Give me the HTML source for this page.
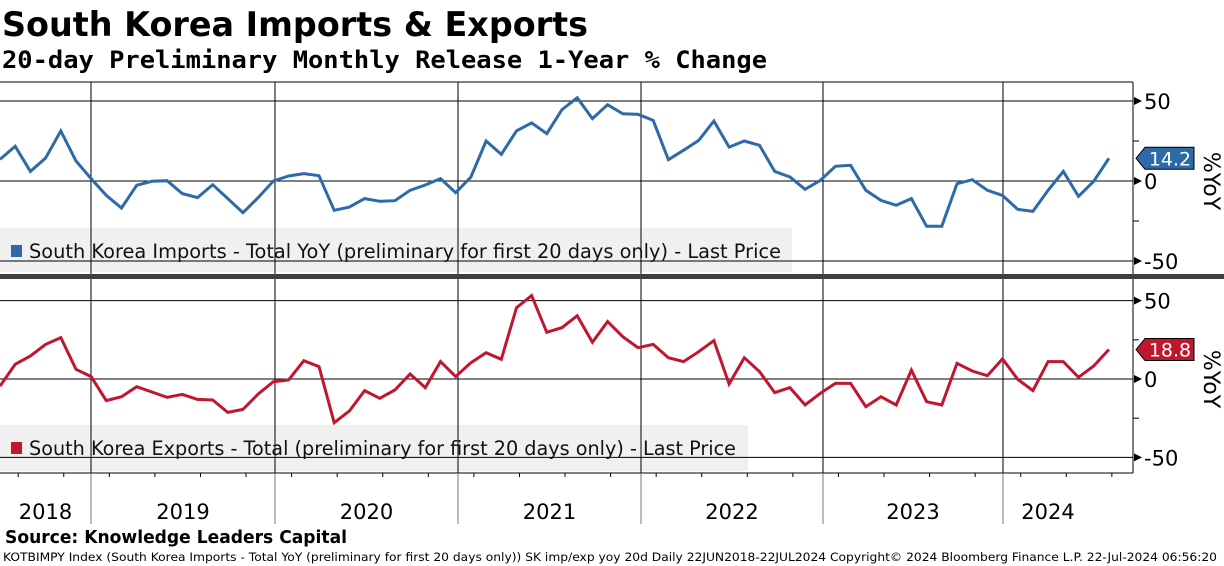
<!DOCTYPE html>
<html><head><meta charset="utf-8"><style>
body{margin:0;background:#fff;}
svg{display:block;font-family:"DejaVu Sans","Liberation Sans",sans-serif;}
</style></head><body>
<svg id="chart" width="1224" height="566" viewBox="0 0 1224 566" xmlns="http://www.w3.org/2000/svg">
<text x="2" y="36" font-size="34" font-weight="bold" fill="#000" textLength="586" lengthAdjust="spacingAndGlyphs">South Korea Imports &amp; Exports</text>
<text x="2" y="68" font-size="24" font-weight="bold" fill="#000" font-family="DejaVu Sans Mono, Liberation Mono, monospace" textLength="765" lengthAdjust="spacingAndGlyphs">20-day Preliminary Monthly Release 1-Year % Change</text>
<g id="grid"></g>
<g id="series"></g>
<g id="axes"></g>
<rect x="0" y="274" width="1224" height="5" fill="#404040"/>
<text x="5" y="543" font-size="18" font-weight="bold" fill="#000" textLength="342" lengthAdjust="spacingAndGlyphs">Source: Knowledge Leaders Capital</text>
<text x="3" y="561" font-size="11.5" fill="#000" textLength="1214" lengthAdjust="spacingAndGlyphs">KOTBIMPY Index (South Korea Imports - Total YoY (preliminary for first 20 days only)) SK imp/exp yoy 20d  Daily 22JUN2018-22JUL2024   Copyright© 2024 Bloomberg Finance L.P.    22-Jul-2024 06:56:20</text>
</svg>
<script>
const years = ["2018","2019","2020","2021","2022","2023","2024"];
const yearLineX = [91,275,458,641,823,1003];
const yTicks = [50,0,-50];
const imports = [13.5,21.7,6,14.4,31.3,12.5,1.5,-9,-16.9,-2.7,-0.2,0.2,-7.9,-10.4,-2.3,-11,-19.8,-10.4,0,3.1,4.6,3.3,-18.3,-16.3,-11,-12.7,-12.3,-5.8,-2.5,1.5,-7.3,2.5,25,16.7,31.3,36.3,29.6,44.6,52,39,47.7,42,41.7,37.9,13.3,19.2,25.4,37.5,21.2,25,22.3,6,2.5,-5.2,0.4,9.2,9.8,-5.8,-12.1,-15.2,-11,-28.3,-28.3,-1.7,0.8,-5.8,-9,-17.7,-19,-5.8,6,-9.6,-0.2,14.2];
const exportsData = [-4.5,9.4,14.7,22.1,26.4,6.2,1.5,-13.8,-11.3,-4.9,-8.3,-11.7,-9.8,-13,-13.4,-21.3,-19.4,-9.6,-1.7,-0.6,11.7,7.9,-27.9,-20.4,-7.4,-12.3,-7,3.2,-5.5,11.1,1.5,10.4,16.8,12.6,45.5,53.2,29.8,32.8,40.4,23.4,36.6,27,20,22.1,13.6,11.1,17.4,24.5,-3.2,13.6,4.7,-8.7,-5.5,-16.6,-9.1,-2.8,-2.8,-17.7,-11.3,-16.6,5.7,-14.5,-16.6,10,5.1,2.1,12.8,-0.2,-7.4,11.1,11.1,1.1,8.3,18.8];
const lastLabels = ["14.2","18.8"];

const NS="http://www.w3.org/2000/svg";
const G=document.getElementById('grid'),S=document.getElementById('series'),A=document.getElementById('axes');
function mk(tag,at,parent){const e=document.createElementNS(NS,tag);for(const k in at)e.setAttribute(k,at[k]);parent.appendChild(e);return e;}
const AX=1133;
const xOf=i=>i*15.19;
const panels=[
 {top:82,bot:274,y0:181,k:1.6,data:imports,color:"#2d6aa8",name:"imports",legend:"South Korea Imports - Total YoY (preliminary for first 20 days only) - Last Price",lw:792,ly:228,tl:752},
 {top:279,bot:473,y0:379,k:1.567,data:exportsData,color:"#c0172f",name:"exports",legend:"South Korea Exports - Total (preliminary for first 20 days only) - Last Price",lw:748,ly:425,tl:707}
];
panels.forEach((p,pi)=>{
 const yOf=v=>p.y0-v*p.k;
 let lb=mk('rect',{x:0,y:p.ly,width:p.lw,height:p.bot-p.ly-2,fill:"#f0f0f0"},G);
 
 
 yTicks.forEach(t=>{
  let l=mk('line',{x1:0,x2:AX,y1:yOf(t),y2:yOf(t),stroke:"#000","stroke-width":1},G);
  
  
  let ar=mk('path',{d:`M${AX+1},${yOf(t)-4} L${AX+9},${yOf(t)} L${AX+1},${yOf(t)+4}Z`,fill:"#000"},A);
  
  
  let tx=mk('text',{x:AX+11,y:yOf(t)+8,"font-size":21,fill:"#000"},A);
  tx.textContent=(t<0?"-":"")+Math.abs(t);
  
  
 });
 [25,-25].forEach(t=>{
  let m=mk('line',{x1:AX,x2:AX+6,y1:yOf(t),y2:yOf(t),stroke:"#000"},A);
  
  
 });
 yearLineX.forEach(x=>{
  let l=mk('line',{x1:x,x2:x,y1:p.top,y2:p.bot,stroke:"#000","stroke-width":1},G);
  
  
 });
 let sw=mk('rect',{x:11,y:p.ly+17,width:11,height:12,fill:p.color},A);
 
 
 let lt=mk('text',{x:29,y:p.ly+30,"font-size":19.5,fill:"#111",textLength:p.tl,lengthAdjust:"spacingAndGlyphs"},A);
 lt.textContent=p.legend;
 
 
 const pts=p.data.map((v,i)=>xOf(i).toFixed(1)+","+yOf(v).toFixed(1)).join(" ");
 let pl=mk('polyline',{points:pts,fill:"none",stroke:p.color,"stroke-width":3,"stroke-linejoin":"miter"},S);
 
 
 const lv=p.data[p.data.length-1],ly=yOf(lv);
 let tag=mk('path',{d:`M${AX+3},${ly} L${AX+12},${ly-11} H${AX+61} V${ly+11} H${AX+12}Z`,fill:p.color,stroke:"#000","stroke-width":1},A);
 
 
 let tt=mk('text',{x:AX+37,y:ly+7,"font-size":19,fill:"#fff","text-anchor":"middle"},A);
 tt.textContent=lastLabels[pi];
 
 
 let at=mk('text',{x:0,y:0,"font-size":22,fill:"#000","text-anchor":"middle",transform:`translate(1204,${p.y0}) rotate(90)`},A);
 at.textContent="%YoY";
 
 
});
let ax=mk('line',{x1:AX,x2:AX,y1:82,y2:473,stroke:"#000"},A);


let tl=mk('line',{x1:0,x2:AX,y1:82,y2:82,stroke:"#000"},A);


let xa=mk('line',{x1:0,x2:AX,y1:473,y2:473,stroke:"#000"},A);


for(let i=1;i<74;i+=3){
 let t=mk('line',{x1:xOf(i)+3,x2:xOf(i)+3,y1:473,y2:477,stroke:"#000"},A);
 
 
}
yearLineX.forEach(x=>{
 let l=mk('line',{x1:x,x2:x,y1:473,y2:524,stroke:"#777"},A);
 
 
});
const bounds=[0].concat(yearLineX).concat([1093]);
years.forEach((y,i)=>{
 const c=(bounds[i]+bounds[i+1])/2;
 let t=mk('text',{x:c,y:519,"font-size":21,fill:"#000","text-anchor":"middle"},A);
 t.textContent=y;
 
 
});
</script>
</body></html>
